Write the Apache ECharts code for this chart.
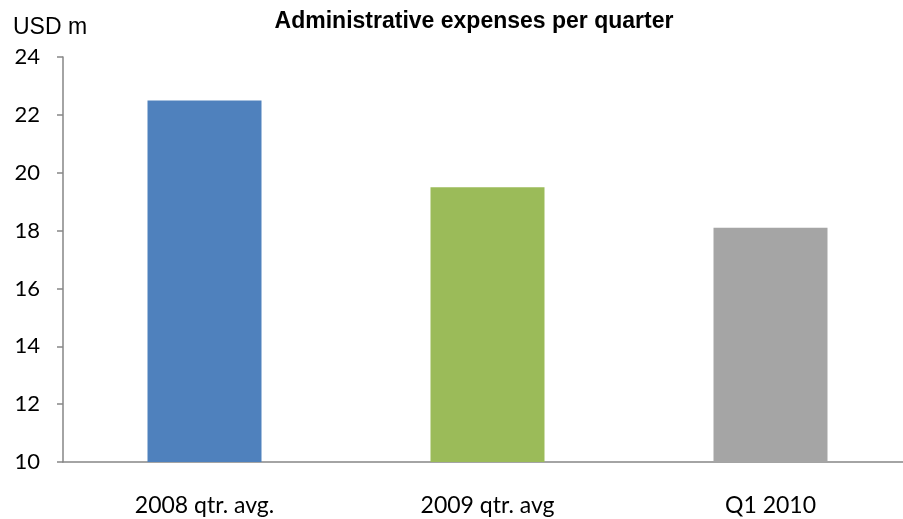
<!DOCTYPE html>
<html>
<head>
<meta charset="utf-8">
<script src="https://cdn.jsdelivr.net/npm/echarts@6/dist/echarts.min.js"></script>
<style>
  html, body { margin: 0; padding: 0; background: #fff; }
  #main { width: 903px; height: 519px; }
</style>
</head>
<body>
<div id="main"></div>
<script>
// data
var categories = ['2008 qtr. avg.', '2009 qtr. avg', 'Q1 2010'];
var values = [22.5, 19.5, 18.1];
var barColors = ['#4F81BD', '#9BBB59', '#A5A5A5'];

var chart = echarts.init(document.getElementById('main'));

var option = {
  animation: false,
  backgroundColor: '#fff',
  title: {
    text: 'Administrative expenses per quarter',
    left: 469,
    textAlign: 'center',
    top: 5,
    textStyle: {
      fontFamily: 'Liberation Sans',
      fontWeight: 'bold',
      fontSize: 23,
      color: '#000'
    }
  },
  graphic: [{
    type: 'text',
    left: 13,
    top: 16,
    style: {
      text: 'USD m',
      font: '23px "Liberation Sans"',
      fill: '#000'
    }
  }],
  grid: {
    left: 63,
    top: 57,
    width: 849,
    bottom: 57,
    outerBoundsMode: 'none',
    containLabel: false
  },
  xAxis: {
    type: 'category',
    data: categories,
    axisLine: { lineStyle: { color: '#868686', width: 1.5 } },
    axisTick: { length: 7, lineStyle: { color: '#868686', width: 1.5 } },
    axisLabel: {
      margin: 32,
      fontFamily: 'Lato',
      fontSize: 23,
      color: '#000'
    },
    splitLine: { show: false }
  },
  yAxis: {
    type: 'value',
    min: 10,
    max: 24,
    interval: 2,
    axisLine: { show: true, lineStyle: { color: '#868686', width: 1.5 } },
    axisTick: { show: true, length: 6, lineStyle: { color: '#868686', width: 1.5 } },
    axisLabel: {
      margin: 23,
      fontFamily: 'Lato',
      fontSize: 22,
      color: '#000'
    },
    splitLine: { show: false }
  },
  series: [{
    type: 'bar',
    barWidth: 114,
    data: values.map(function (v, i) {
      return { value: v, itemStyle: { color: barColors[i] } };
    })
  }]
};

chart.setOption(option);
</script>
</body>
</html>
